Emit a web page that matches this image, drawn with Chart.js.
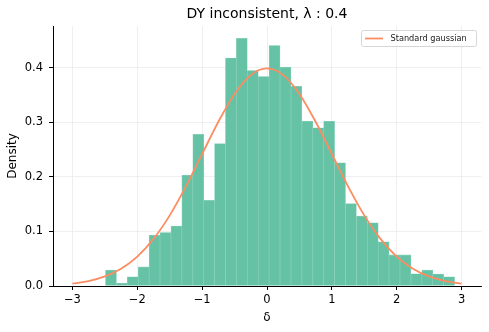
<!DOCTYPE html>
<html>
<head>
<meta charset="utf-8">
<script src="https://cdn.jsdelivr.net/npm/chart.js@4.4.1/dist/chart.umd.min.js"></script>
<style>
  html, body { margin: 0; padding: 0; background: #ffffff; }
  #wrap { width: 489px; height: 332px; position: relative; }
</style>
</head>
<body>
<div id="wrap"><canvas id="c" width="489" height="332"></canvas></div>
<script>
// ---- data ----
const titleText = "DY inconsistent, \u03bb : 0.4";
const xLabel = "\u03b4";
const yLabel = "Density";
const lineLabel = "Standard gaussian";

// histogram bin centres (bin width ~0.168) and densities
const binCenters = [-2.406, -2.238, -2.070, -1.901, -1.733, -1.565, -1.397, -1.229,
                    -1.060, -0.892, -0.724, -0.556, -0.388, -0.219, -0.051, 0.117,
                     0.285,  0.453,  0.622,  0.790,  0.958,  1.126,  1.294, 1.463,
                     1.631,  1.799,  1.967,  2.135,  2.304,  2.472,  2.640, 2.808];
const densities  = [0.029, 0.005, 0.017, 0.035, 0.093, 0.098, 0.110, 0.203,
                    0.278, 0.157, 0.261, 0.418, 0.454, 0.395, 0.384, 0.441,
                    0.401, 0.366, 0.302, 0.290, 0.302, 0.226, 0.151, 0.128,
                    0.116, 0.081, 0.057, 0.057, 0.0225, 0.029, 0.022, 0.017];

// standard gaussian curve points as read
const curveX = [-3, -2.75, -2.5, -2.25, -2, -1.75, -1.5, -1.25, -1, -0.75, -0.5, -0.25, 0,
                0.25, 0.5, 0.75, 1, 1.25, 1.5, 1.75, 2, 2.25, 2.5, 2.75, 3];
const curveY = [0.0044, 0.0091, 0.0175, 0.0317, 0.0540, 0.0863, 0.1295, 0.1826, 0.2420, 0.3011, 0.3521, 0.3867, 0.3989,
                0.3867, 0.3521, 0.3011, 0.2420, 0.1826, 0.1295, 0.0863, 0.0540, 0.0317, 0.0175, 0.0091, 0.0044];

const xTicks = [-3, -2, -1, 0, 1, 2, 3];
const yTicks = [0.0, 0.1, 0.2, 0.3, 0.4];

// ---- chart ----
const FONT = "'DejaVu Sans', 'Liberation Sans', sans-serif";

const legendPlugin = {
  id: 'boxLegend',
  afterDraw(chart) {
    const ctx = chart.ctx;
    const ds = chart.data.datasets[0];
    const x0 = 361.5, y0 = 30.5, w = 115, h = 16;
    ctx.save();
    ctx.fillStyle = 'rgba(255,255,255,0.8)';
    ctx.strokeStyle = '#d6d6d6';
    ctx.lineWidth = 1;
    ctx.beginPath();
    ctx.roundRect(x0, y0, w, h, 2);
    ctx.fill();
    ctx.stroke();
    ctx.strokeStyle = ds.borderColor;
    ctx.lineWidth = 1.8;
    ctx.beginPath();
    ctx.moveTo(365, y0 + h / 2);
    ctx.lineTo(383, y0 + h / 2);
    ctx.stroke();
    ctx.fillStyle = '#1a1a1a';
    ctx.font = "8.2px " + FONT;
    ctx.textBaseline = 'middle';
    ctx.textAlign = 'left';
    ctx.fillText(ds.label, 390.5, y0 + h / 2 + 0.5);
    ctx.restore();
  }
};

new Chart(document.getElementById('c'), {
  data: {
    datasets: [
      {
        type: 'line',
        label: lineLabel,
        data: curveX.map((x, i) => ({ x: x, y: curveY[i] })),
        borderColor: '#fc8d62',
        borderWidth: 1.8,
        pointRadius: 0,
        cubicInterpolationMode: 'monotone',
        fill: false,
        order: 0
      },
      {
        type: 'bar',
        label: 'hist',
        data: binCenters.map((x, i) => ({ x: x, y: densities[i] })),
        backgroundColor: 'rgba(102,194,165,1)',
        borderColor: 'rgba(140,211,188,1)',
        borderWidth: 0.6,
        barPercentage: 1.0,
        categoryPercentage: 1.0,
        order: 1
      }
    ]
  },
  options: {
    responsive: false,
    animation: false,
    devicePixelRatio: 1,
    layout: { padding: { left: 0, right: 8, top: 0, bottom: 0 } },
    plugins: {
      legend: { display: false },
      tooltip: { enabled: false },
      title: {
        display: true,
        text: titleText,
        fullSize: false,
        color: '#000',
        font: { family: FONT, size: 14, weight: 'normal', lineHeight: 1.2 },
        padding: { top: 6, bottom: 3.2 }
      }
    },
    scales: {
      x: {
        type: 'linear',
        min: -3.3,
        max: 3.3,
        offset: false,
        afterFit(scale) { scale.height = 46; },
        afterBuildTicks(scale) { scale.ticks = xTicks.map(v => ({ value: v })); },
        ticks: {
          includeBounds: false,
          color: '#000',
          padding: 3,
          font: { family: FONT, size: 11.5 },
          callback: v => (v < 0 ? '\u2212' + Math.abs(v) : String(v))
        },
        grid: { offset: false, color: '#ebebeb', lineWidth: 0.8, tickLength: 4, tickColor: '#000', tickWidth: 1 },
        border: { display: true, color: '#000', width: 1 },
        title: {
          display: true, text: xLabel, color: '#000',
          font: { family: FONT, size: 12, lineHeight: 1.2 },
          padding: { top: 0, bottom: 6.8 }
        }
      },
      y: {
        type: 'linear',
        min: 0,
        max: 0.4767,
        afterFit(scale) { scale.width = 53; },
        afterBuildTicks(scale) { scale.ticks = yTicks.map(v => ({ value: v })); },
        ticks: {
          includeBounds: false,
          color: '#000',
          padding: 6,
          font: { family: FONT, size: 11.5 },
          callback: v => Number(v).toFixed(1)
        },
        grid: { color: '#ebebeb', lineWidth: 0.8, tickLength: 4, tickColor: '#000', tickWidth: 1 },
        border: { display: true, color: '#000', width: 1 },
        title: {
          display: true, text: yLabel, color: '#000',
          font: { family: FONT, size: 12, lineHeight: 1.2 },
          padding: { top: 5.8, bottom: 0 }
        }
      }
    }
  },
  plugins: [legendPlugin]
});
</script>
</body>
</html>
